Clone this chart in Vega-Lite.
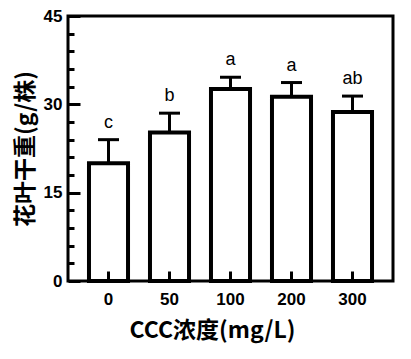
{
  "$schema": "https://vega.github.io/schema/vega-lite/v6.json",
  "width": 325,
  "height": 265,
  "autosize": {"type": "none"},
  "padding": {"left": 68, "top": 16, "right": 18, "bottom": 78},
  "background": "white",
  "config": {
    "view": {"stroke": "black", "strokeWidth": 3},
    "font": "Liberation Sans"
  },
  "data": {
    "values": [
      {"c": "0", "mean": 20.0, "upper": 24.0, "sig": "c"},
      {"c": "50", "mean": 25.2, "upper": 28.5, "sig": "b"},
      {"c": "100", "mean": 32.6, "upper": 34.6, "sig": "a"},
      {"c": "200", "mean": 31.3, "upper": 33.7, "sig": "a"},
      {"c": "300", "mean": 28.7, "upper": 31.4, "sig": "ab"}
    ]
  },
  "resolve": {"axis": {"y": "independent"}},
  "encoding": {
    "x": {
      "field": "c",
      "type": "nominal",
      "sort": null,
      "scale": {"paddingInner": 0.36, "paddingOuter": 0.344},
      "axis": {
        "title": "CCC浓度(mg/L)",
        "titleFont": "Noto Sans CJK SC",
        "titleFontSize": 23,
        "titleFontWeight": "bold",
        "titleColor": "black",
        "titleX": 144,
        "titleAlign": "center",
        "titlePadding": 12,
        "labelAngle": 0,
        "labelFontSize": 17,
        "labelFontWeight": "bold",
        "labelColor": "black",
        "labelPadding": 20,
        "domain": false,
        "ticks": true,
        "tickSize": -10,
        "tickWidth": 3,
        "tickColor": "#000000",
        "tickOpacity": 1,
        "zindex": 2
      }
    }
  },
  "layer": [
    {
      "mark": {"type": "bar", "fill": "white", "stroke": "black", "strokeWidth": 4, "opacity": 1},
      "encoding": {
        "y": {
          "field": "mean",
          "type": "quantitative",
          "scale": {"domain": [0, 45], "nice": false},
          "axis": {
            "orient": "left",
            "title": "花叶干重(g/株)",
            "titleFont": "Noto Sans CJK SC",
            "titleFontSize": 23,
            "titleFontWeight": "bold",
            "titleColor": "black",
            "titlePadding": 6,
            "values": [0, 15, 30, 45],
            "labelOverlap": false,
            "labelFontSize": 17,
            "labelFontWeight": "bold",
            "labelColor": "black",
            "labelPadding": 18,
            "domain": false,
            "grid": false,
            "ticks": true,
            "tickSize": -12,
            "tickWidth": 3,
            "tickColor": "#000000",
            "tickOpacity": 1,
            "zindex": 2
          }
        }
      }
    },
    {
      "mark": {"type": "rule", "strokeWidth": 3, "color": "black"},
      "encoding": {
        "y": {
          "field": "mean",
          "type": "quantitative",
          "axis": {
            "orient": "left",
            "title": null,
            "values": [3, 6, 9, 12, 18, 21, 24, 27, 33, 36, 39, 42],
            "labels": false,
            "domain": false,
            "grid": false,
            "ticks": true,
            "tickSize": -6,
            "tickWidth": 3,
            "tickColor": "#000000",
            "tickOpacity": 1,
            "zindex": 2
          }
        },
        "y2": {"field": "upper"}
      }
    },
    {
      "mark": {"type": "tick", "thickness": 3, "size": 21, "color": "black", "opacity": 1},
      "encoding": {
        "y": {"field": "upper", "type": "quantitative", "axis": null}
      }
    },
    {
      "mark": {"type": "text", "dy": -12, "fontSize": 18, "baseline": "alphabetic", "color": "black"},
      "encoding": {
        "y": {"field": "upper", "type": "quantitative", "axis": null},
        "text": {"field": "sig"}
      }
    }
  ]
}
